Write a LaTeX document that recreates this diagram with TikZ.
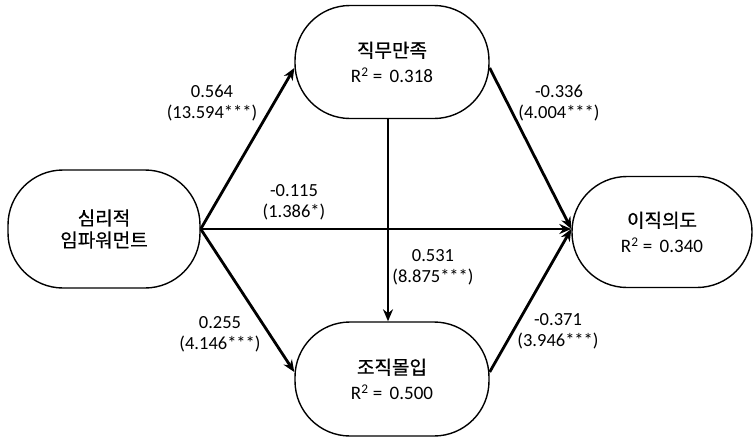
\documentclass[tikz,border=0pt]{standalone}
\usepackage{fontspec}
\setmainfont{Carlito}
\newfontfamily\kr[FakeBold=0.6]{Noto Sans CJK KR}
\usetikzlibrary{arrows.meta}
\begin{document}
\begin{tikzpicture}[x=1pt,y=-1pt,
  construct/.style={draw=black,line width=1.4pt,rounded corners=55pt,align=center,inner sep=0pt,font=\fontsize{19}{22}\selectfont},
  path/.style={line width=2.8pt,-{Stealth[length=12pt,width=10pt]}},
  coef/.style={align=center,font=\fontsize{18.5}{21}\selectfont,inner sep=0pt}]
\useasboundingbox (0,0) rectangle (754,439);
\node[construct,minimum width=192pt,minimum height=118pt] (psy) at (104,229) {{\kr 심리적}\\{\kr 임파워먼트}};
\node[construct,minimum width=194pt,minimum height=113pt] (job) at (392,62) {{\kr 직무만족}\\[3pt]R\textsuperscript{2} = \,0.318};
\node[construct,minimum width=194pt,minimum height=114pt] (org) at (392,379) {{\kr 조직몰입}\\[3pt]R\textsuperscript{2} = \,0.500};
\node[construct,minimum width=180pt,minimum height=111pt] (tur) at (662,232) {{\kr 이직의도}\\[3pt]R\textsuperscript{2} = \,0.340};
\draw[path] (psy.east) -- ([yshift=-6pt]job.west);
\draw[path] (psy.east) -- ([yshift=7pt]org.west);
\draw[path] (psy.east) -- ([yshift=3pt]tur.west);
\draw[path] ([xshift=-4pt]job.south) -- ([xshift=-4pt]org.north);
\draw[path] ([yshift=-6pt]job.east) -- ([yshift=3pt]tur.west);
\draw[path] ([yshift=7pt]org.east) -- ([yshift=3pt]tur.west);
\node[coef] (c1) at (212,103) {0.564\\(13.594***)};
\node[coef] (c2) at (559,103) {-0.336\\(4.004***)};
\node[coef] (c3) at (294,202) {-0.115\\(1.386*)};
\node[coef] (c4) at (433,267) {0.531\\(8.875***)};
\node[coef] (c5) at (220,334) {0.255\\(4.146***)};
\node[coef] (c6) at (558,331) {-0.371\\(3.946***)};
\end{tikzpicture}
\end{document}
